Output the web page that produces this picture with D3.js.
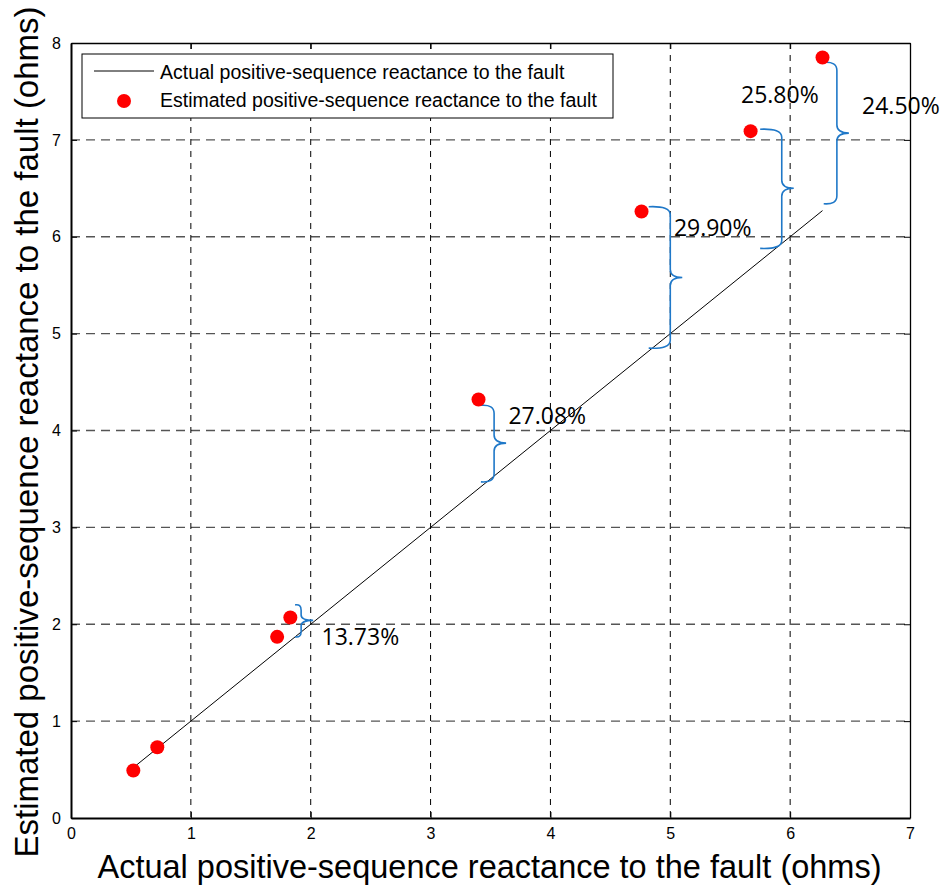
<!DOCTYPE html>
<html>
<head>
<meta charset="utf-8">
<script src="https://cdn.jsdelivr.net/npm/d3@7"></script>
<style>
  body { margin: 0; background: #fff; }
  svg { display: block; }
</style>
</head>
<body>
<svg width="947" height="888"></svg>
<script>
var svg = d3.select("svg");

// actual vs estimated reactance (ohms)
var actualX = [0.52, 0.72, 1.72, 1.83, 3.40, 4.76, 5.67, 6.27];
var estimatedY = [0.49, 0.73, 1.87, 2.07, 4.32, 6.26, 7.09, 7.85];
var idealLine = [0.5, 6.27];

// error annotations: brace spine x, top, bottom, middle, hook end x, label position
var braceLabels = ["13.73%", "27.08%", "29.90%", "25.80%", "24.50%"];
var braceX = [1.92, 3.53, 5.00, 5.93, 6.39];
var braceTop = [2.20, 4.26, 6.31, 7.11, 7.80];
var braceBottom = [1.87, 3.47, 4.85, 5.88, 6.34];
var braceMid = [2.04, 3.87, 5.58, 6.50, 7.07];
var braceHookX = [1.87, 3.42, 4.82, 5.75, 6.28];
var labelX = [2.09, 3.65, 5.03, 5.59, 6.60];
var labelY = [1.79, 4.07, 6.01, 7.38, 7.27];

var xTicks = [0, 1, 2, 3, 4, 5, 6, 7];
var yTicks = [0, 1, 2, 3, 4, 5, 6, 7, 8];

var plotLeft = 71, plotRight = 910, plotTop = 43, plotBottom = 818;

var x = d3.scaleLinear().domain([0, 7]).range([plotLeft, plotRight]);
var y = d3.scaleLinear().domain([0, 8]).range([plotBottom, plotTop]);

// grid
svg.append("g").selectAll("line").data(yTicks.slice(1, -1)).enter().append("line")
  .attr("x1", plotLeft).attr("x2", plotRight)
  .attr("y1", function(d) { return y(d); }).attr("y2", function(d) { return y(d); })
  .attr("stroke", "#555").attr("stroke-width", 1.3).attr("stroke-dasharray", "9,6");

svg.append("g").selectAll("line").data(xTicks.slice(1, -1)).enter().append("line")
  .attr("y1", plotTop).attr("y2", plotBottom)
  .attr("x1", function(d) { return x(d); }).attr("x2", function(d) { return x(d); })
  .attr("stroke", "#000").attr("stroke-width", 1).attr("stroke-dasharray", "6,6");

// axes (matlab style, ticks inward)
var fmt = d3.format("d");
var xAxis = svg.append("g").attr("transform", "translate(0," + plotBottom + ")")
  .call(d3.axisBottom(x).tickValues(xTicks).tickFormat(fmt).tickSizeInner(-6).tickSizeOuter(0).tickPadding(10));
var yAxis = svg.append("g").attr("transform", "translate(" + plotLeft + ",0)")
  .call(d3.axisLeft(y).tickValues(yTicks).tickFormat(fmt).tickSizeInner(-6).tickSizeOuter(0).tickPadding(10));
svg.append("g").attr("transform", "translate(0," + plotTop + ")")
  .call(d3.axisTop(x).tickValues(xTicks).tickSizeInner(-6).tickSizeOuter(0).tickFormat(""));
svg.append("g").attr("transform", "translate(" + plotRight + ",0)")
  .call(d3.axisRight(y).tickValues(yTicks).tickSizeInner(-6).tickSizeOuter(0).tickFormat(""));

svg.selectAll(".tick text").attr("font-family", "Liberation Sans, Arial, sans-serif")
  .attr("font-size", 16).attr("fill", "#000");
svg.selectAll(".domain").attr("stroke", "#000").attr("stroke-width", 1.3);
svg.selectAll(".tick line").attr("stroke", "#000");
xAxis.select(".domain").attr("stroke-width", 2);
yAxis.select(".domain").attr("stroke-width", 2);

// ideal line y = x
svg.append("line")
  .attr("x1", x(idealLine[0])).attr("y1", y(idealLine[0]))
  .attr("x2", x(idealLine[1])).attr("y2", y(idealLine[1]))
  .attr("stroke", "#000").attr("stroke-width", 1);

// braces
var tip = 12;
function bracePath(i) {
  var sx = x(braceX[i]), hx = x(braceHookX[i]);
  var t = y(braceTop[i]), b = y(braceBottom[i]), m = y(braceMid[i]);
  var r = Math.min(8, (b - t) / 6);
  return "M" + hx + "," + t +
    " Q" + sx + "," + (t - 1) + " " + sx + "," + (t + r) +
    " L" + sx + "," + (m - r) +
    " Q" + sx + "," + m + " " + (sx + tip) + "," + m +
    " Q" + sx + "," + m + " " + sx + "," + (m + r) +
    " L" + sx + "," + (b - r) +
    " Q" + sx + "," + (b + 1) + " " + hx + "," + b;
}
svg.append("g").selectAll("path").data(braceLabels).enter().append("path")
  .attr("d", function(d, i) { return bracePath(i); })
  .attr("fill", "none").attr("stroke", "#1f78c8").attr("stroke-width", 1.6);

svg.append("g").selectAll("text").data(braceLabels).enter().append("text")
  .attr("x", function(d, i) { return x(labelX[i]); })
  .attr("y", function(d, i) { return y(labelY[i]); })
  .attr("font-family", "Open Sans, sans-serif").attr("font-size", 23)
  .attr("fill", "#000")
  .text(function(d) { return d; });

// estimated points
svg.append("g").selectAll("circle").data(actualX).enter().append("circle")
  .attr("cx", function(d) { return x(d); })
  .attr("cy", function(d, i) { return y(estimatedY[i]); })
  .attr("r", 7).attr("fill", "#ff0000");

// legend
var lg = svg.append("g");
lg.append("rect").attr("x", 82).attr("y", 54).attr("width", 531).attr("height", 64)
  .attr("fill", "#fff").attr("stroke", "#000").attr("stroke-width", 1);
lg.append("line").attr("x1", 94).attr("x2", 154).attr("y1", 71).attr("y2", 71)
  .attr("stroke", "#000").attr("stroke-width", 1);
lg.append("circle").attr("cx", 124).attr("cy", 101).attr("r", 7).attr("fill", "#ff0000");
lg.append("text").attr("x", 160).attr("y", 79).text("Actual positive-sequence reactance to the fault");
lg.append("text").attr("x", 160).attr("y", 107).text("Estimated positive-sequence reactance to the fault");
lg.selectAll("text").attr("font-family", "Liberation Sans, Arial, sans-serif").attr("font-size", 19.5);

// axis titles
svg.append("text").attr("x", (plotLeft + plotRight) / 2 - 1).attr("y", 878)
  .attr("text-anchor", "middle")
  .attr("font-family", "Liberation Sans, Arial, sans-serif").attr("font-size", 32.5)
  .text("Actual positive-sequence reactance to the fault (ohms)");
svg.append("text").attr("transform", "translate(38,432) rotate(-90)")
  .attr("text-anchor", "middle")
  .attr("font-family", "Liberation Sans, Arial, sans-serif").attr("font-size", 33)
  .text("Estimated positive-sequence reactance to the fault (ohms)");
</script>
</body>
</html>
